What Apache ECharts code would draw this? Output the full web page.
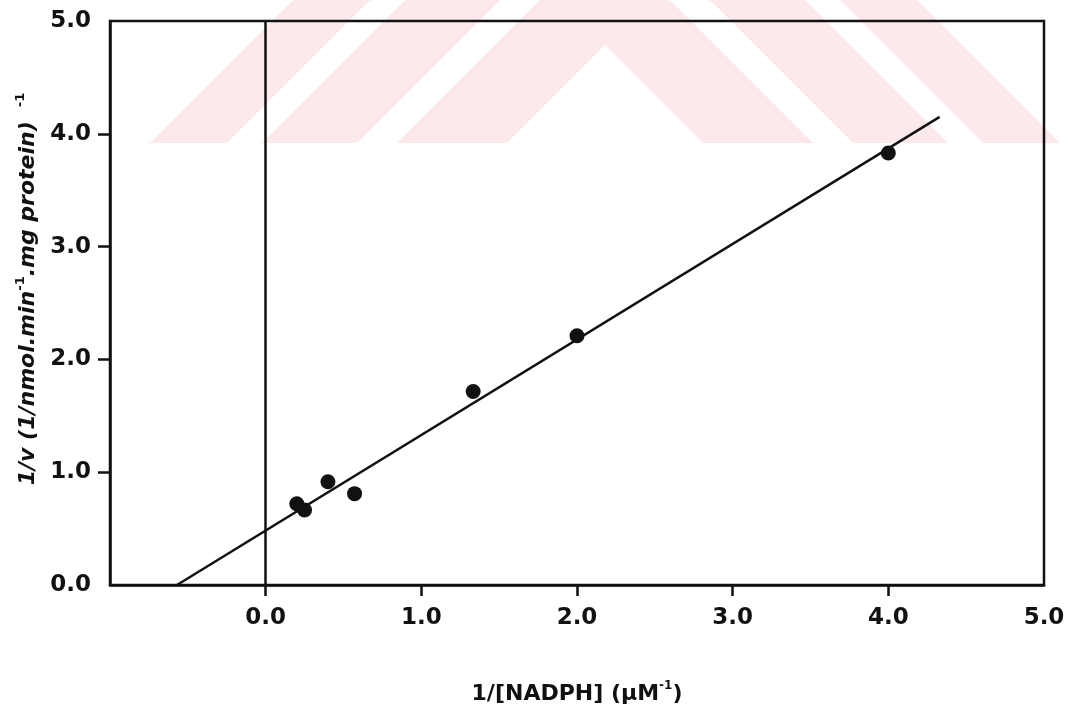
<!DOCTYPE html>
<html>
<head>
<meta charset="utf-8">
<script src="https://cdn.jsdelivr.net/npm/echarts@6/dist/echarts.min.js"></script>
<style>
  html, body { margin: 0; padding: 0; background: #fff; }
  #chart { width: 1068px; height: 711px; }
</style>
</head>
<body>
<div id="chart"></div>
<script>
// Lineweaver-Burk plot: 1/v against 1/[NADPH]
const invNADPH = [0.2, 0.25, 0.4, 0.571, 1.333, 2.0, 4.0];
const invRate  = [0.72, 0.665, 0.915, 0.81, 1.715, 2.21, 3.83];
// fitted line drawn from the x-intercept to its upper end
const fitX = [-0.57, 4.33];
const fitY = [0, 4.15];
const xTickLabels = [0, 1, 2, 3, 4, 5];
const yTickLabels = [0, 1, 2, 3, 4, 5];

const FONT = 'DejaVu Sans';
const INK = '#111';

const points = invNADPH.map((x, i) => [x, invRate[i]]);
const fit = fitX.map((x, i) => [x, fitY[i]]);

// faint chevron stripes behind the plot (pixel space, clipped at y = 143)
const PINK = '#fde8ec';
const CX = 605, YB = 143, W = 1068;
function chevronBand(cTop, cBot) {
  // region between y = cTop + |x - CX| and y = cBot + |x - CX|, limited to 0..YB
  const pts = [];
  const clipY = y => Math.max(0, Math.min(YB, y));
  const xs = [];
  for (let x = 0; x <= W; x += 4) xs.push(x);
  xs.push(CX);
  xs.sort((a, b) => a - b);
  xs.forEach(x => pts.push([x, clipY(cTop + Math.abs(x - CX))]));
  xs.slice().reverse().forEach(x => pts.push([x, clipY(cBot + Math.abs(x - CX))]));
  return pts;
}
const stripes = [
  chevronBand(-312, -235),
  chevronBand(-200, -105),
  chevronBand(-65, 45)
];

const chart = echarts.init(document.getElementById('chart'), null, { renderer: 'canvas' });
chart.setOption({
  backgroundColor: '#fff',
  animation: false,
  graphic: stripes.map(pts => ({
    type: 'polygon',
    z: -10,
    silent: true,
    shape: { points: pts },
    style: { fill: PINK }
  })),
  grid: {
    left: 110, right: 24, top: 21, bottom: 126,
    show: true, borderColor: INK, borderWidth: 2.5, backgroundColor: 'transparent'
  },
  xAxis: {
    type: 'value', min: -1, max: 5, interval: 1,
    name: '{t|1/[NADPH] (\u00b5M}{s|-1}{t|)}',
    nameLocation: 'middle', nameGap: 95,
    nameTextStyle: {
      rich: {
        t: { fontFamily: FONT, fontWeight: 'bold', fontSize: 22, color: INK, lineHeight: 28 },
        s: { fontFamily: FONT, fontWeight: 'bold', fontSize: 12, color: INK, verticalAlign: 'top', lineHeight: 12 }
      }
    },
    axisLine: { show: true, onZero: false, lineStyle: { color: INK, width: 2.5 } },
    axisTick: { show: true, inside: false, length: 11, customValues: [0, 1, 2, 3, 4], lineStyle: { color: INK, width: 2.5 } },
    axisLabel: {
      customValues: xTickLabels, margin: 22,
      fontFamily: FONT, fontWeight: 'bold', fontSize: 23, color: INK,
      formatter: v => v.toFixed(1)
    },
    splitLine: { show: false }
  },
  yAxis: {
    type: 'value', min: 0, max: 5, interval: 1,
    name: '{t|1/v (1/nmol.min}{s|-1}{t|.mg protein)}{g| }{s|-1}',
    nameLocation: 'middle', nameGap: 62,
    nameTextStyle: {
      padding: [0, 0, 0, 28],
      rich: {
        t: { fontFamily: FONT, fontWeight: 'bold', fontStyle: 'italic', fontSize: 22, color: INK, lineHeight: 28 },
        s: { fontFamily: FONT, fontWeight: 'bold', fontSize: 13, color: INK, verticalAlign: 'top', lineHeight: 12 },
        g: { fontSize: 22, width: 14, lineHeight: 28 }
      }
    },
    axisLine: { show: true, onZero: false, lineStyle: { color: INK, width: 2.5 } },
    axisTick: { show: true, inside: false, length: 12, customValues: [1, 2, 3, 4], lineStyle: { color: INK, width: 2.5 } },
    axisLabel: {
      customValues: yTickLabels, margin: 19,
      fontFamily: FONT, fontWeight: 'bold', fontSize: 23, color: INK,
      formatter: v => v.toFixed(1)
    },
    splitLine: { show: false }
  },
  series: [
    {
      type: 'line',
      data: fit,
      symbol: 'none',
      lineStyle: { color: INK, width: 2.5 },
      z: 3,
      markLine: {
        silent: true,
        symbol: 'none',
        label: { show: false },
        lineStyle: { color: INK, width: 2.5, type: 'solid' },
        data: [{ xAxis: 0 }]
      }
    },
    {
      type: 'scatter',
      data: points,
      symbol: 'circle',
      symbolSize: 15,
      itemStyle: { color: INK, opacity: 1 },
      z: 4
    }
  ]
});
</script>
</body>
</html>
